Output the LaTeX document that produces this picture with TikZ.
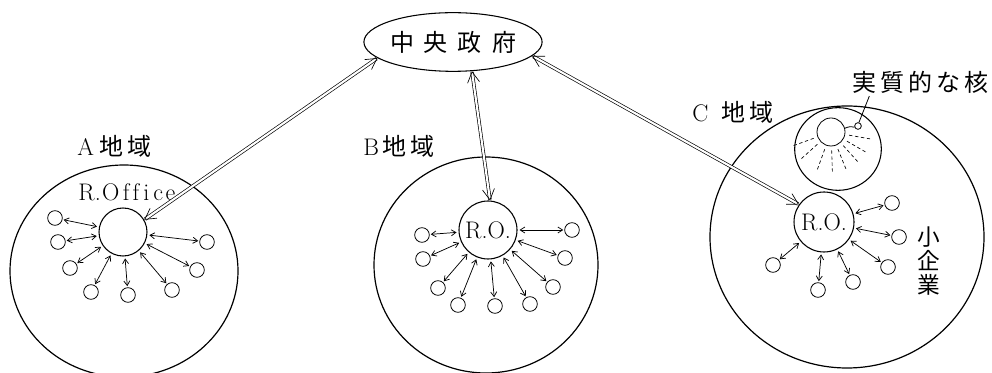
\documentclass[tikz,border=0pt]{standalone}
\usepackage{fontspec}
\newfontfamily\cjk{Noto Sans CJK JP}
\usetikzlibrary{arrows.meta,shapes.geometric}
\begin{document}
\begin{tikzpicture}[x=0.75pt,y=-0.75pt,
  region/.style={line width=0.9pt},
  hub/.style={circle, draw, line width=0.8pt, inner sep=0pt, font=\fontsize{18}{20}\selectfont},
  firm/.style={circle, draw, line width=0.6pt, minimum size=11pt, inner sep=0pt},
  link/.style={line width=0.55pt, {Straight Barb[length=3.5pt,width=4.5pt]}-{Straight Barb[length=3.5pt,width=4.5pt]}, shorten <=1.5pt, shorten >=0.8pt},
  trunk/.style={double, double distance=1.6pt, line width=0.5pt, {Straight Barb[length=8pt,width=9pt]}-{Straight Barb[length=8pt,width=9pt]}},
  lbl/.style={inner sep=0pt, font=\fontsize{18}{20}\selectfont},
  ray/.style={line width=0.5pt, dash pattern=on 2.5pt off 2pt}
]
\useasboundingbox (0,0) rectangle (992,373);
\clip (0,0) rectangle (992,373);

% central government
\node[ellipse, draw, line width=0.8pt, minimum width=115pt, minimum height=44pt, inner sep=0pt, font=\cjk\fontsize{18}{20}\selectfont] (gov) at (453,42) {中\hspace{7.5pt}央\hspace{7.5pt}政\hspace{7.5pt}府};

% regions
\draw[region] (124,271) ellipse [x radius=114, y radius=106];
\draw[region] (486,265) ellipse [x radius=112, y radius=108];
\draw[region] (847,237) ellipse [x radius=137, y radius=131];

% region labels
\node[lbl, anchor=west] (labA) at (77,146) {A\hspace{4pt}{\cjk 地\hspace{3pt}域}};
\node[lbl, anchor=west] (labB) at (363,146) {B\hspace{3pt}{\cjk 地\hspace{3pt}域}};
\node[lbl, anchor=west] (labC) at (692,112) {C\hspace{10pt}{\cjk 地\hspace{3pt}域}};

% region A
\node[hub, minimum size=36pt] (aro) at (123,232) {};
\node[lbl] (aroText) at (127,192) {R.\hspace{1pt}O\hspace{2.5pt}f\hspace{2.5pt}f\hspace{3pt}i\hspace{3pt}c\hspace{2pt}e};
\foreach \n/\p in {1/{(55,218)},2/{(58,242)},3/{(70,268)},4/{(91,292)},5/{(128,295)},6/{(172,290)},7/{(197,270)},8/{(207,242)}}
  {\node[firm] (fa\n) at \p {};
   \draw[link] (aro) -- (fa\n);}

% region B
\node[hub, minimum size=43.5pt] (bro) at (488,230) {R.O.};
\foreach \n/\p in {1/{(422,235)},2/{(572,230)},3/{(423,259)},4/{(565,258)},5/{(438,288)},6/{(553,287)},7/{(458,305)},8/{(495,306)},9/{(530,304)}}
  {\node[firm] (fb\n) at \p {};
   \draw[link] (bro) -- (fb\n);}

% region C
\node[hub, minimum size=45pt] (cro) at (824,222) {R.O.};
\foreach \n/\p in {1/{(892,203)},2/{(899,237)},3/{(888,267)},4/{(853,282)},5/{(818,290)},6/{(773,265)}}
  {\node[firm] (fc\n) at \p {};
   \draw[link] (cro) -- (fc\n);}
\node[inner sep=0pt, align=center, font=\cjk\fontsize{17}{18}\selectfont] (sme) at (929,261) {小\\企\\業};

% core
\node[ellipse, draw, line width=0.8pt, minimum width=65pt, minimum height=62pt, inner sep=0pt] (core) at (838,149) {};
\node[circle, draw, line width=0.6pt, minimum size=21pt, inner sep=0pt] (nucleus) at (831,132) {};
\node[circle, draw, line width=0.6pt, minimum size=5pt, inner sep=0pt] (seed) at (858,126) {};
\draw[line width=0.6pt] (nucleus.15) to[bend left=20] (seed.200);
\foreach \a in {200,222,250,272,292,312,330,350}
  \draw[ray] ([shift={(\a:3pt)}]nucleus.\a) -- ++(\a:16pt);
\node[lbl, anchor=west, font=\cjk\fontsize{18}{20}\selectfont] (coreLbl) at (852,82) {実\hspace{3pt}質\hspace{3pt}的\hspace{3pt}な\hspace{3pt}核};
\draw[line width=0.6pt] (seed.75) -- ([xshift=13pt,yshift=-2pt]coreLbl.south west);

% trunk links to the central government
\draw[trunk] (gov.192) -- (aro.30);
\draw[trunk] (gov.-57) -- (bro.86);
\draw[trunk] (gov.-10) -- (cro.145);
\end{tikzpicture}
\end{document}
